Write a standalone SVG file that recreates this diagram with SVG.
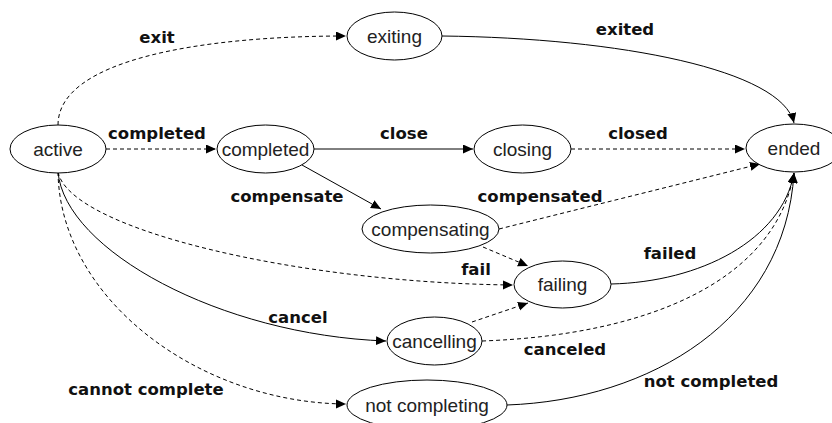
<svg xmlns="http://www.w3.org/2000/svg" width="832" height="423" viewBox="0 0 832 423">
<style>
.n ellipse{fill:#fff;stroke:#000;stroke-width:1}
.n text{font-family:"Liberation Sans",Arial,sans-serif;font-size:19px;fill:#222;text-anchor:middle}
.e path{fill:none;stroke:#000;stroke-width:1}
.e .d{stroke-dasharray:4 3}
.l{font-family:"DejaVu Sans",Verdana,sans-serif;font-weight:bold;font-size:16.5px;fill:#111;text-anchor:middle}
</style>
<defs>
<marker id="ah" markerUnits="userSpaceOnUse" markerWidth="11" markerHeight="10" refX="10" refY="4.5" orient="auto">
<path d="M0,0 L10,4.5 L0,9 Z" fill="#000"/>
</marker>
</defs>
<rect width="832" height="423" fill="#fff"/>
<g class="e" id="connectors">
<path class="d" d="M58,125 C58,60 200,36 346,36" marker-end="url(#ah)"/>
<path d="M442,36 C620,38 782,70 794,123" marker-end="url(#ah)"/>
<path class="d" d="M106,149 L216,149" marker-end="url(#ah)"/>
<path d="M314,149 L473,149" marker-end="url(#ah)"/>
<path class="d" d="M571,149 L745,149" marker-end="url(#ah)"/>
<path d="M302,165 L381,209" marker-end="url(#ah)"/>
<path class="d" d="M499,229 L760,164" marker-end="url(#ah)"/>
<path class="d" d="M58,172 C70,230 300,283 513,285" marker-end="url(#ah)"/>
<path class="d" d="M483,247 L528,266" marker-end="url(#ah)"/>
<path d="M58,172 C65,250 220,335 386,341" marker-end="url(#ah)"/>
<path class="d" d="M58,172 C60,300 200,403 346,404" marker-end="url(#ah)"/>
<path class="d" d="M472,322 L528,303" marker-end="url(#ah)"/>
<path d="M611,284 C700,282 782,240 794,173" marker-end="url(#ah)"/>
<path class="d" d="M482,341 C650,335 775,280 794,173" marker-end="url(#ah)"/>
<path d="M507,405 C650,400 785,320 794,173" marker-end="url(#ah)"/>
</g>
<g id="labels">
<text class="l" x="157" y="43">exit</text>
<text class="l" x="625" y="35">exited</text>
<text class="l" x="157" y="139">completed</text>
<text class="l" x="404" y="139">close</text>
<text class="l" x="638" y="139">closed</text>
<text class="l" x="287" y="202">compensate</text>
<text class="l" x="540" y="202">compensated</text>
<text class="l" x="476" y="275">fail</text>
<text class="l" x="670" y="259">failed</text>
<text class="l" x="298" y="323">cancel</text>
<text class="l" x="565" y="355">canceled</text>
<text class="l" x="146" y="395">cannot complete</text>
<text class="l" x="711" y="387">not completed</text>
</g>
<g class="n" id="active"><ellipse cx="58" cy="149" rx="48" ry="24"/><text x="58" y="156">active</text></g>
<g class="n" id="exiting"><ellipse cx="394.5" cy="36" rx="47.5" ry="24"/><text x="394.5" y="43">exiting</text></g>
<g class="n" id="completed"><ellipse cx="265.5" cy="149" rx="48.5" ry="24"/><text x="265.5" y="156">completed</text></g>
<g class="n" id="closing"><ellipse cx="522.5" cy="149" rx="48.5" ry="24"/><text x="522.5" y="156">closing</text></g>
<g class="n" id="ended"><ellipse cx="794" cy="148" rx="48" ry="24"/><text x="794" y="155">ended</text></g>
<g class="n" id="compensating"><ellipse cx="430.5" cy="229" rx="68.5" ry="24"/><text x="430.5" y="236">compensating</text></g>
<g class="n" id="failing"><ellipse cx="562.5" cy="284.5" rx="48.5" ry="23.5"/><text x="562.5" y="291">failing</text></g>
<g class="n" id="cancelling"><ellipse cx="434.5" cy="341" rx="47.5" ry="24"/><text x="434.5" y="348">cancelling</text></g>
<g class="n" id="not_completing"><ellipse cx="427" cy="405" rx="80" ry="25"/><text x="427" y="412">not completing</text></g>
</svg>
